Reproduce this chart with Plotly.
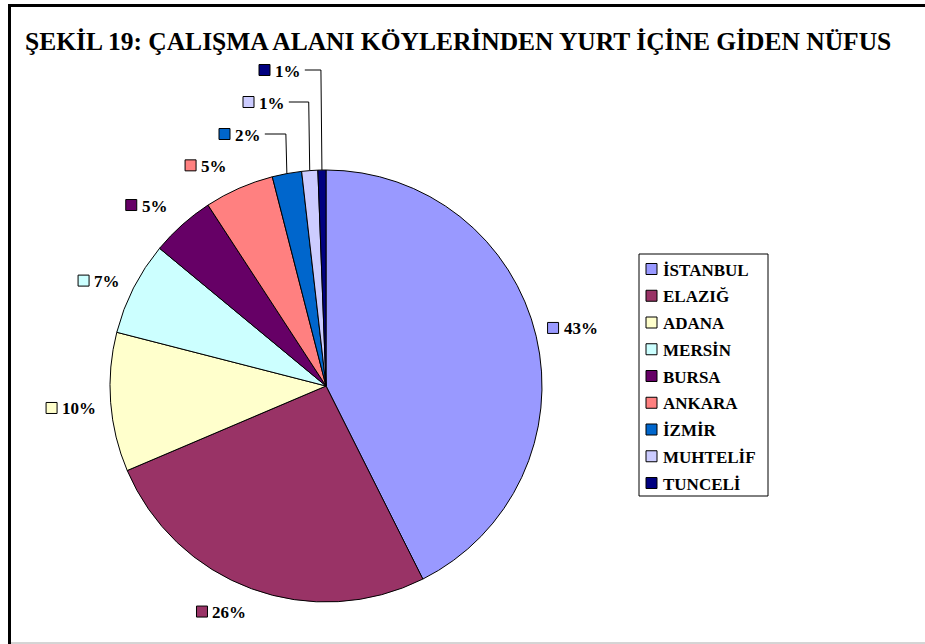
import math
import plotly.graph_objects as go

# ---- data ----
categories = ["İSTANBUL", "ELAZIĞ", "ADANA", "MERSİN", "BURSA", "ANKARA", "İZMİR", "MUHTELİF", "TUNCELİ"]
values = [42.6, 26.0, 10.4, 7.0, 4.8, 5.2, 2.2, 1.2, 0.6]
colors = ["#9999FF", "#993366", "#FFFFCC", "#CCFFFF", "#660066", "#FF8080", "#0066CC", "#CCCCFF", "#000080"]
title_text = "ŞEKİL 19: ÇALIŞMA ALANI KÖYLERİNDEN YURT İÇİNE GİDEN NÜFUS"

# ---- layout constants (pixels) ----
W, H = 925, 644
CX, CY, R = 326, 386, 216
FONT = "Liberation Serif"
LFS = 17            # label font size
SQ = 11             # square size
LABEL_DIST = 36     # distance of label box centre beyond the rim
# small pixel nudges of the outside labels (index -> (dx, dy))
label_nudge = {1: (-19, -11), 2: (-5, 3), 3: (-4, 9), 4: (-13, 7), 5: (-20, 10)}
# stacked labels with leader lines (index -> (square-left x, y))
leader_pos = {6: (219, 134), 7: (243, 102), 8: (259, 70)}


def px(x):
    return x / W


def py(y):
    return 1 - y / H


fig = go.Figure()
fig.add_trace(go.Pie(
    labels=categories, values=values, sort=False, direction="clockwise", rotation=0,
    marker=dict(colors=colors, line=dict(color="black", width=1)),
    textinfo="none", hoverinfo="label+percent", showlegend=False,
    domain=dict(x=[px(CX - R), px(CX + R)], y=[py(CY + R), py(CY - R)]),
))

shapes = []
annotations = []

total = sum(values)
cum = 0.0
for i, v in enumerate(values):
    mid = (cum + v / 2) / total * 2 * math.pi
    cum += v
    s, c = math.sin(mid), math.cos(mid)
    txt = f"{round(v / total * 100)}%"
    tw = LFS * (0.5 * (len(txt) - 1) + 0.9)
    bw = SQ + 4 + tw
    if i in leader_pos:
        left, yc = leader_pos[i]
        ex, ey = CX + R * s, CY - R * c
        x0 = left + bw + 7
        shapes.append(dict(type="path", xref="paper", yref="paper",
                           path=f"M {px(x0)},{py(yc)} L {px(ex - 1)},{py(yc)} L {px(ex)},{py(ey)}",
                           line=dict(color="black", width=1)))
    else:
        d = R + LABEL_DIST
        ndx, ndy = label_nudge.get(i, (0, 0))
        xc, yc = CX + d * s + ndx, CY - d * c + ndy
        left = xc - bw / 2
    shapes.append(dict(type="rect", xref="paper", yref="paper",
                       x0=px(left), x1=px(left + SQ), y0=py(yc - SQ / 2), y1=py(yc + SQ / 2),
                       fillcolor=colors[i], line=dict(color="black", width=1)))
    annotations.append(dict(text=f"<b>{txt}</b>", x=px(left + SQ + 3), y=py(yc + 1), xref="paper", yref="paper",
                            xanchor="left", yanchor="middle", showarrow=False,
                            font=dict(family=FONT, size=LFS, color="black")))

# ---- legend (manual) ----
LG_X0, LG_Y0, LG_X1, LG_Y1 = 639, 254, 768, 496
LG_FIRST, LG_STEP = 269, 26.75
shapes.append(dict(type="rect", xref="paper", yref="paper",
                   x0=px(LG_X0), x1=px(LG_X1), y0=py(LG_Y1), y1=py(LG_Y0),
                   fillcolor="white", line=dict(color="black", width=1), layer="below"))
for i, (cat, col) in enumerate(zip(categories, colors)):
    yc = LG_FIRST + i * LG_STEP
    shapes.append(dict(type="rect", xref="paper", yref="paper",
                       x0=px(646), x1=px(646 + SQ), y0=py(yc - SQ / 2), y1=py(yc + SQ / 2),
                       fillcolor=col, line=dict(color="black", width=1)))
    annotations.append(dict(text=f"<b>{cat}</b>", x=px(661), y=py(yc + 1), xref="paper", yref="paper",
                            xanchor="left", yanchor="middle", showarrow=False,
                            font=dict(family=FONT, size=LFS, color="black")))

# ---- title ----
annotations.append(dict(text=f"<b>{title_text}</b>", x=px(458), y=py(42), xref="paper", yref="paper",
                        xanchor="center", yanchor="middle", showarrow=False,
                        font=dict(family=FONT, size=25.5, color="black")))

# ---- frame ----
shapes.append(dict(type="path", xref="paper", yref="paper",
                   path=f"M {px(9.5)},{py(645)} L {px(9.5)},{py(5.5)} L {px(926)},{py(5.5)}",
                   line=dict(color="black", width=3)))
shapes.append(dict(type="path", xref="paper", yref="paper",
                   path=f"M {px(11)},{py(643)} L {px(926)},{py(643)}",
                   line=dict(color="#AAAAAA", width=1)))

fig.update_layout(
    width=W, height=H, margin=dict(l=0, r=0, t=0, b=0),
    paper_bgcolor="white", plot_bgcolor="white",
    shapes=shapes, annotations=annotations, showlegend=False,
)

fig.write_html("out.html", config={"displayModeBar": False},
               post_script="document.body.style.margin='0';")
